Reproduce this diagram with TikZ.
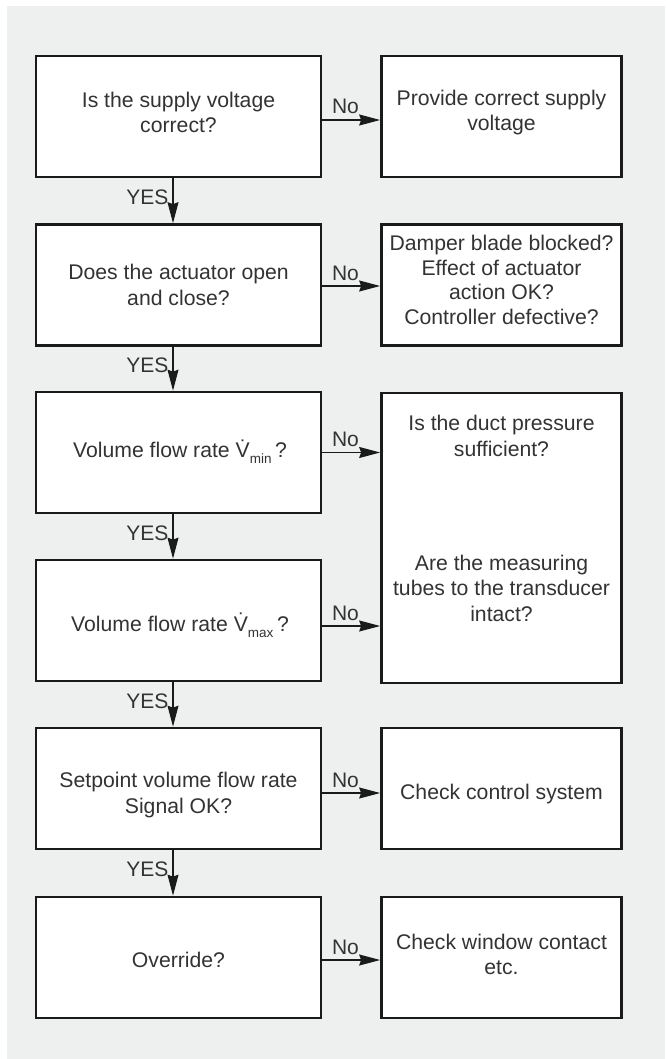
\documentclass[tikz,border=0pt]{standalone}
\usepackage{fontspec}
\setmainfont{Liberation Sans}
\usetikzlibrary{arrows.meta}
\definecolor{bg}{HTML}{EEF0F0}
\definecolor{ink}{HTML}{333333}
\definecolor{frame}{HTML}{1A1A1A}
\newcommand{\Vdot}{V\char"0307}
\newcommand{\vsub}[1]{\raisebox{-0.3em}{\fontsize{13.5}{13.5}\selectfont #1}}
\begin{document}
\begin{tikzpicture}[x=1pt,y=-1pt,
  box/.style={draw=frame, line width=2.7pt, fill=white, minimum width=285pt,
    minimum height=121pt, inner sep=0pt},
  rbox/.style={box, minimum width=240pt},
  txt/.style={align=center, text=ink, inner sep=0pt, font=\fontsize{21.2}{25.5}\selectfont},
  arr/.style={draw=frame, line width=1.3pt, -{Stealth[length=21pt,width=11pt,inset=2pt]}},
  lbl/.style={text=ink, inner sep=0pt, font=\fontsize{21}{24}\selectfont},
  nolbl/.style={lbl, anchor=base west, pos=0, xshift=9pt, yshift=6pt},
  yeslbl/.style={lbl, anchor=base east, pos=0, xshift=-4pt, yshift=-26pt}]
\useasboundingbox (0,0) rectangle (665,1059);
\fill[white] (0,0) rectangle (665,1059);
\fill[bg] (7,6) rectangle (665,1059);

% left column boxes
\node[box] (q1) at (178.5,116.5) {};
\node[box] (q2) at (178.5,285) {};
\node[box] (q3) at (178.5,452.5) {};
\node[box] (q4) at (178.5,620.5) {};
\node[box] (q5) at (178.5,788.5) {};
\node[box] (q6) at (178.5,957.5) {};

% right column boxes
\node[rbox] (r1) at (501.5,116.5) {};
\node[rbox] (r2) at (501.5,285) {};
\node[rbox, minimum height=290pt] (r34) at (501.5,538) {};
\node[rbox] (r5) at (501.5,788.5) {};
\node[rbox] (r6) at (501.5,957.5) {};

% texts
\node[txt] (q1t) at (178.5,112.5) {Is the supply voltage\\correct?};
\node[txt] (q2t) at (178.5,285) {Does the actuator open\\and close?};
\node[txt] (q3t) at (180,451.5) {Volume flow rate \Vdot\vsub{min}\,?};
\node[txt] (q4t) at (180,625.5) {Volume flow rate \Vdot\vsub{max}\,?};
\node[txt] (q5t) at (178.5,795) {Setpoint volume flow rate\\Signal OK?};
\node[txt] (q6t) at (178.5,960) {Override?};
\node[txt] (r1t) at (501.5,112.5) {Provide correct supply\\voltage};
\node[txt, font=\fontsize{21.2}{24.6}\selectfont] (r2t) at (501.5,280) {Damper blade blocked?\\Effect of actuator\\action OK?\\Controller defective?};
\node[txt] (t3) at (501.5,436) {Is the duct pressure\\sufficient?};
\node[txt] (t4) at (501.5,588) {Are the measuring\\tubes to the transducer\\intact?};
\node[txt] (r5t) at (501.5,794) {Check control system};
\node[txt] (r6t) at (501.5,954.5) {Check window contact\\etc.};

% No arrows
\draw[arr] ([yshift=-3.5pt]q1.east) -- ([yshift=-3.5pt]r1.west) node[nolbl] {No};
\draw[arr] ([yshift=-1pt]q2.east) -- ([yshift=-1pt]r2.west) node[nolbl] {No};
\draw[arr] (q3.east) -- (q3.east -| r34.west) node[nolbl] {No};
\draw[arr] ([yshift=-5.5pt]q4.east) -- ([yshift=-5.5pt]q4.east -| r34.west) node[nolbl] {No};
\draw[arr] ([yshift=-4.5pt]q5.east) -- ([yshift=-4.5pt]r5.west) node[nolbl] {No};
\draw[arr] ([yshift=-2.5pt]q6.east) -- ([yshift=-2.5pt]r6.west) node[nolbl] {No};

% YES arrows
\draw[arr] ([xshift=-5.5pt]q1.south) -- ([xshift=-5.5pt]q2.north) node[yeslbl] {YES};
\draw[arr] ([xshift=-5.5pt]q2.south) -- ([xshift=-5.5pt]q3.north) node[yeslbl] {YES};
\draw[arr] ([xshift=-5.5pt]q3.south) -- ([xshift=-5.5pt]q4.north) node[yeslbl] {YES};
\draw[arr] ([xshift=-5.5pt]q4.south) -- ([xshift=-5.5pt]q5.north) node[yeslbl] {YES};
\draw[arr] ([xshift=-5.5pt]q5.south) -- ([xshift=-5.5pt]q6.north) node[yeslbl] {YES};
\end{tikzpicture}
\end{document}
